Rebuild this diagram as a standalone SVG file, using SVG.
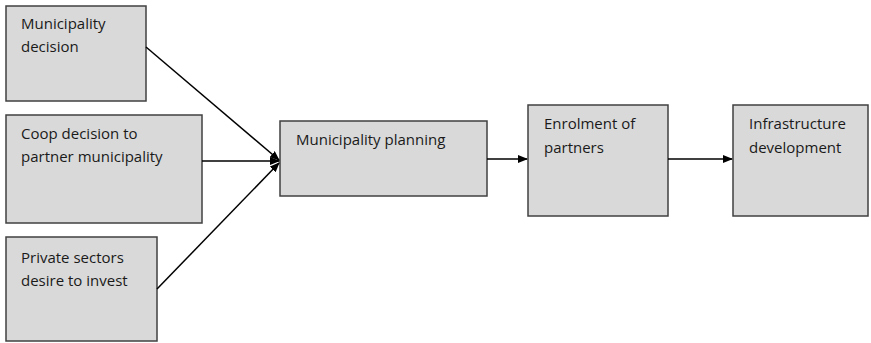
<svg xmlns="http://www.w3.org/2000/svg" width="871" height="343" viewBox="0 0 871 343">
<style>
.box{fill:#d9d9d9;stroke:#404040;stroke-width:1.5}
.t{font-family:"Open Sans","Liberation Sans",sans-serif;font-size:15px;fill:#1a1a1a}
.c{stroke:#000;stroke-width:1.5;fill:none}
</style>
<defs>
<marker id="ah" markerWidth="10" markerHeight="8" refX="9" refY="4" orient="auto" markerUnits="userSpaceOnUse">
<path d="M0,0 L10,4 L0,8 Z" fill="#000"/>
</marker>
</defs>
<rect width="871" height="343" fill="#fff"/>
<g id="n1"><rect class="box" x="6" y="6" width="140" height="95"/><text class="t" x="21" y="29">Municipality</text><text class="t" x="21" y="52">decision</text></g>
<g id="n2"><rect class="box" x="6" y="115" width="196" height="108"/><text class="t" x="21" y="139">Coop decision to</text><text class="t" x="21" y="162">partner municipality</text></g>
<g id="n3"><rect class="box" x="6" y="237" width="151" height="104"/><text class="t" x="21" y="263">Private sectors</text><text class="t" x="21" y="286">desire to invest</text></g>
<g id="n4"><rect class="box" x="280" y="121" width="207" height="75"/><text class="t" x="296" y="145">Municipality planning</text></g>
<g id="n5"><rect class="box" x="528" y="105" width="140" height="111"/><text class="t" x="544" y="129">Enrolment of</text><text class="t" x="544" y="153">partners</text></g>
<g id="n6"><rect class="box" x="733" y="105" width="135" height="111"/><text class="t" x="749" y="129">Infrastructure</text><text class="t" x="749" y="153">development</text></g>
<g id="connectors">
<line class="c" x1="146" y1="47" x2="279" y2="160" marker-end="url(#ah)"/>
<line class="c" x1="202" y1="161" x2="279" y2="161" marker-end="url(#ah)"/>
<line class="c" x1="157" y1="289" x2="279" y2="163" marker-end="url(#ah)"/>
<line class="c" x1="487" y1="159" x2="527" y2="159" marker-end="url(#ah)"/>
<line class="c" x1="668" y1="159" x2="732" y2="159" marker-end="url(#ah)"/>
</g>
</svg>
